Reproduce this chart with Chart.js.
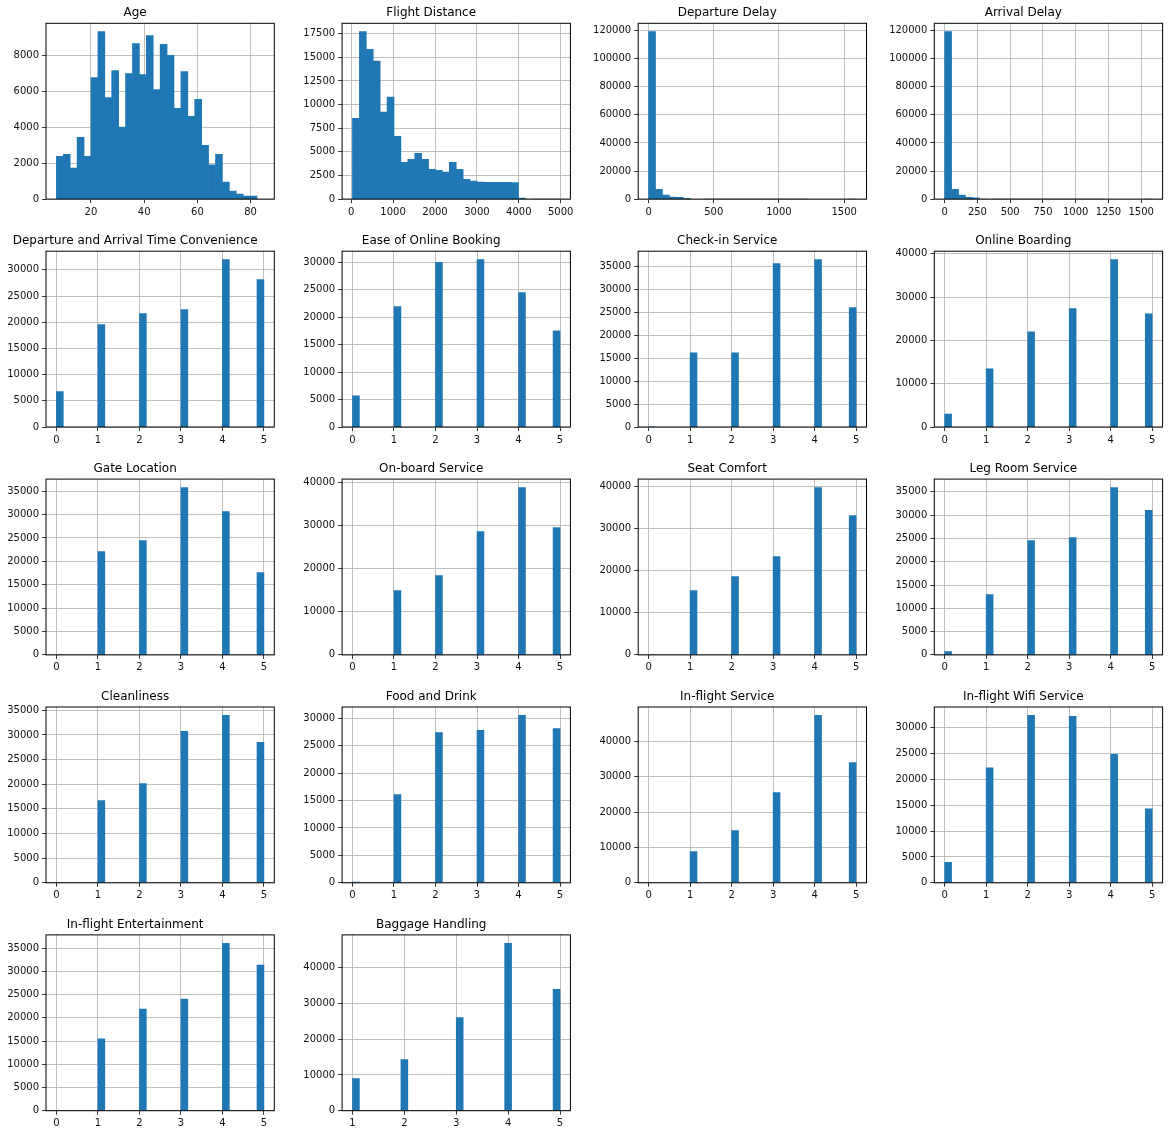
<!DOCTYPE html>
<html>
<head>
<meta charset="utf-8">
<script src="https://cdn.jsdelivr.net/npm/chart.js@4.4.0/dist/chart.umd.min.js"></script>
<style>
  body { margin: 0; background: #fff; width: 1169px; height: 1134px; position: relative; overflow: hidden; }
  canvas { position: absolute; }
</style>
</head>
<body>
<script>
// histogram counts (30 bins each)
const ageCounts = [2380, 2490, 1720, 3440, 2385, 6765, 9315, 5655, 7150, 4010,
  6985, 8650, 6930, 9095, 6100, 8615, 8000, 5045, 7100, 4600,
  5545, 2995, 1905, 2495, 945, 445, 275, 165, 165, 15];
const flightDistanceCounts = [8550, 17720, 15850, 14600, 9200, 10800, 6650, 3900, 4200, 4850,
  4200, 3150, 3050, 2850, 3900, 3150, 2100, 1900, 1790, 1780,
  1775, 1785, 1770, 1760, 120, 30, 20, 15, 10, 5];
const departureDelayCounts = [119300, 7000, 2800, 1400, 1200, 600, 300, 170, 100, 60,
  40, 25, 15, 10, 8, 5, 4, 3, 2, 2, 1, 1, 1, 0, 0, 0, 0, 0, 0, 1];
const arrivalDelayCounts = [119200, 7000, 2800, 1300, 900, 500, 280, 160, 100, 60,
  40, 25, 15, 10, 8, 5, 4, 3, 2, 2, 1, 1, 1, 0, 0, 0, 0, 0, 0, 1];

// rating questions: counts per level 0..5
const ratingLevels = [0, 1, 2, 3, 4, 5];
const timeConvenienceCounts = [6750, 19550, 21650, 22420, 31970, 28150];
const onlineBookingCounts = [5660, 21910, 30000, 30490, 24470, 17530];
const checkinCounts = [1, 16150, 16150, 35580, 36460, 25980];
const onlineBoardingCounts = [3010, 13440, 22010, 27340, 38690, 26180];
const gateLocationCounts = [1, 22100, 24450, 35780, 30650, 17600];
const onboardServiceCounts = [5, 14960, 18450, 28680, 38910, 29610];
const seatComfortCounts = [1, 15320, 18650, 23410, 39840, 33170];
const legRoomCounts = [720, 12960, 24550, 25200, 35930, 31000];
const cleanlinessCounts = [14, 16690, 20150, 30730, 33980, 28490];
const foodDrinkCounts = [130, 16100, 27400, 27800, 30550, 28150];
const inflightServiceCounts = [5, 8800, 14750, 25530, 47380, 34040];
const wifiCounts = [3970, 22250, 32390, 32200, 24840, 14300];
const entertainmentCounts = [18, 15460, 21900, 24050, 36070, 31350];
const baggageLevels = [1, 2, 3, 4, 5];
const baggageCounts = [8960, 14280, 26050, 46780, 33890];

// tick labels
const ageXTicks = [20, 40, 60, 80];
const ageYTicks = [0, 2000, 4000, 6000, 8000];
const distanceXTicks = [0, 1000, 2000, 3000, 4000, 5000];
const distanceYTicks = [0, 2500, 5000, 7500, 10000, 12500, 15000, 17500];
const departureXTicks = [0, 500, 1000, 1500];
const arrivalXTicks = [0, 250, 500, 750, 1000, 1250, 1500];
const delayYTicks = [0, 20000, 40000, 60000, 80000, 100000, 120000];
const ratingXTicks = [0, 1, 2, 3, 4, 5];
const baggageXTicks = [1, 2, 3, 4, 5];
const y5k30 = [0, 5000, 10000, 15000, 20000, 25000, 30000];
const y5k35 = [0, 5000, 10000, 15000, 20000, 25000, 30000, 35000];
const y10k40 = [0, 10000, 20000, 30000, 40000];

const panels = [
  { title: 'Age', lo: 7, hi: 85, bins: ageCounts, xt: ageXTicks, yt: ageYTicks },
  { title: 'Flight Distance', lo: 31, hi: 4983, bins: flightDistanceCounts, xt: distanceXTicks, yt: distanceYTicks },
  { title: 'Departure Delay', lo: 0, hi: 1592, bins: departureDelayCounts, xt: departureXTicks, yt: delayYTicks },
  { title: 'Arrival Delay', lo: 0, hi: 1584, bins: arrivalDelayCounts, xt: arrivalXTicks, yt: delayYTicks },
  { title: 'Departure and Arrival Time Convenience', lo: 0, hi: 5, levels: ratingLevels, counts: timeConvenienceCounts, xt: ratingXTicks, yt: y5k30 },
  { title: 'Ease of Online Booking', lo: 0, hi: 5, levels: ratingLevels, counts: onlineBookingCounts, xt: ratingXTicks, yt: y5k30 },
  { title: 'Check-in Service', lo: 0, hi: 5, levels: ratingLevels, counts: checkinCounts, xt: ratingXTicks, yt: y5k35 },
  { title: 'Online Boarding', lo: 0, hi: 5, levels: ratingLevels, counts: onlineBoardingCounts, xt: ratingXTicks, yt: y10k40 },
  { title: 'Gate Location', lo: 0, hi: 5, levels: ratingLevels, counts: gateLocationCounts, xt: ratingXTicks, yt: y5k35 },
  { title: 'On-board Service', lo: 0, hi: 5, levels: ratingLevels, counts: onboardServiceCounts, xt: ratingXTicks, yt: y10k40 },
  { title: 'Seat Comfort', lo: 0, hi: 5, levels: ratingLevels, counts: seatComfortCounts, xt: ratingXTicks, yt: y10k40 },
  { title: 'Leg Room Service', lo: 0, hi: 5, levels: ratingLevels, counts: legRoomCounts, xt: ratingXTicks, yt: y5k35 },
  { title: 'Cleanliness', lo: 0, hi: 5, levels: ratingLevels, counts: cleanlinessCounts, xt: ratingXTicks, yt: y5k35 },
  { title: 'Food and Drink', lo: 0, hi: 5, levels: ratingLevels, counts: foodDrinkCounts, xt: ratingXTicks, yt: y5k30 },
  { title: 'In-flight Service', lo: 0, hi: 5, levels: ratingLevels, counts: inflightServiceCounts, xt: ratingXTicks, yt: y10k40 },
  { title: 'In-flight Wifi Service', lo: 0, hi: 5, levels: ratingLevels, counts: wifiCounts, xt: ratingXTicks, yt: y5k30 },
  { title: 'In-flight Entertainment', lo: 0, hi: 5, levels: ratingLevels, counts: entertainmentCounts, xt: ratingXTicks, yt: y5k35 },
  { title: 'Baggage Handling', lo: 1, hi: 5, levels: baggageLevels, counts: baggageCounts, xt: baggageXTicks, yt: y10k40 },
];

Chart.defaults.font.family = "'DejaVu Sans', sans-serif";
Chart.defaults.color = '#111';

// put discrete levels into 30 equal bins like pandas hist does
function toBins(levels, counts, lo, hi) {
  const w = (hi - lo) / 30;
  const bins = new Array(30).fill(0);
  levels.forEach((v, i) => {
    const k = Math.min(29, Math.floor((v - lo) / w + 1e-9));
    bins[k] += counts[i];
  });
  return bins;
}

// top and right spines
const frame = {
  id: 'frame',
  afterDraw(chart) {
    const a = chart.chartArea, ctx = chart.ctx;
    ctx.save();
    ctx.strokeStyle = '#000';
    ctx.lineWidth = 1;
    ctx.strokeRect(a.left, a.top, a.right - a.left, a.bottom - a.top);
    ctx.restore();
  }
};

const PW = 228.3, PH = 175.8, TITLE_H = 23.4;
const plain = (v) => String(v);

panels.forEach((p, idx) => {
  const r = Math.floor(idx / 4), c = idx % 4;
  const L = 46 + 296.1 * c, T = 23.3 + 227.9 * r;
  const cl = Math.floor(L) - 50;
  const cw = Math.ceil(L + PW) + 6 - cl;
  const ct = Math.floor(T - TITLE_H);
  const ch = Math.ceil(T + PH) + 24 - ct;

  const canvas = document.createElement('canvas');
  canvas.width = cw; canvas.height = ch;
  canvas.style.left = cl + 'px'; canvas.style.top = ct + 'px';
  canvas.style.width = cw + 'px'; canvas.style.height = ch + 'px';
  document.body.appendChild(canvas);

  const bins = p.bins || toBins(p.levels, p.counts, p.lo, p.hi);
  const w = (p.hi - p.lo) / 30;
  const span = p.hi - p.lo;
  const ymax = 1.05 * Math.max(...bins);

  const tickFont = { size: 10 };
  new Chart(canvas, {
    type: 'bar',
    data: {
      datasets: [{
        data: bins.map((v, i) => ({ x: p.lo + (i + 0.5) * w, y: v })),
        backgroundColor: '#1f77b4',
        borderWidth: 0,
        barPercentage: 1,
        categoryPercentage: 1,
        // no hairline for empty / sub-pixel bins
        inflateAmount: (ctx) => (ctx.raw && ctx.raw.y > ymax * 0.004 ? 0.33 : 0),
      }],
    },
    options: {
      responsive: false,
      animation: false,
      devicePixelRatio: 1,
      layout: { padding: { left: 0, top: T - TITLE_H - ct, right: cl + cw - (L + PW), bottom: 0 } },
      plugins: {
        legend: { display: false },
        tooltip: { enabled: false },
        title: {
          display: true,
          text: p.title,
          color: '#000',
          font: { size: 12, weight: 'normal', lineHeight: 1.2 },
          padding: { top: 6, bottom: 3 },
        },
      },
      scales: {
        x: {
          type: 'linear',
          min: p.lo - 0.05 * span,
          max: p.hi + 0.05 * span,
          offset: false,
          z: 1,
          grid: { color: '#b0b0b0', lineWidth: 0.8, offset: false, tickColor: '#000', tickLength: 4, tickWidth: 0.8 },
          border: { display: false },
          ticks: { font: tickFont, color: '#111', padding: 3, maxRotation: 0, autoSkip: false, callback: plain },
          afterBuildTicks: (s) => { s.ticks = p.xt.map((v) => ({ value: v })); },
          afterFit: (s) => { s.height = (ct + ch) - (T + PH); },
        },
        y: {
          type: 'linear',
          min: 0,
          max: ymax,
          z: 1,
          grid: { color: '#b0b0b0', lineWidth: 0.8, tickColor: '#000', tickLength: 4, tickWidth: 0.8 },
          border: { display: false },
          ticks: { font: tickFont, color: '#111', padding: 3, autoSkip: false, callback: plain },
          afterBuildTicks: (s) => { s.ticks = p.yt.map((v) => ({ value: v })); },
          afterFit: (s) => { s.width = L - cl; },
        },
      },
    },
    plugins: [frame],
  });
});
</script>
</body>
</html>
